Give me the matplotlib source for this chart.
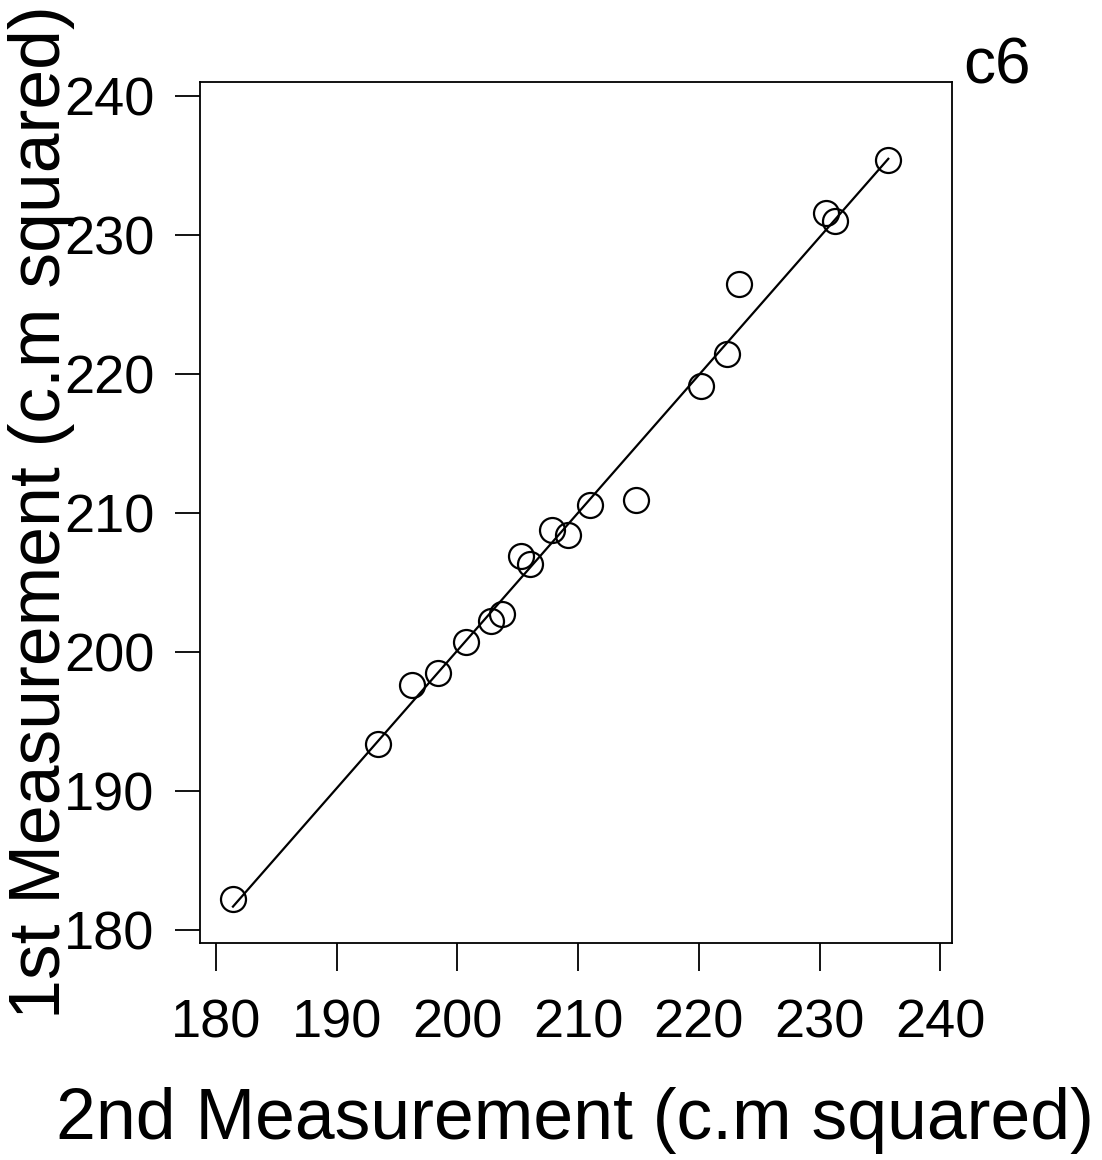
import numpy as np
import matplotlib
matplotlib.use("Agg")
import matplotlib.pyplot as plt

plt.rcParams['font.family'] = ['Liberation Sans', 'DejaVu Sans']

# 2nd measurement (x) and 1st measurement (y), c.m squared
second_measurement = [181.4, 193.4, 196.2, 198.4, 200.7, 202.8, 203.7, 205.3, 206.0,
                      207.8, 209.2, 211.0, 214.8, 220.2, 222.3, 223.3, 230.5, 231.3, 235.7]
first_measurement = [182.2, 193.4, 197.6, 198.5, 200.7, 202.2, 202.7, 206.9, 206.3,
                     208.8, 208.4, 210.6, 210.9, 219.1, 221.4, 226.5, 231.6, 231.0, 235.4]
tick_values = [180, 190, 200, 210, 220, 230, 240]

x = np.array(second_measurement)
y = np.array(first_measurement)

fig = plt.figure(figsize=(11.02, 11.6), dpi=100)
ax = fig.add_axes([0.1815, 0.1871, 0.8639 - 0.1815, 0.9293 - 0.1871])

# fitted line across the data range
slope, intercept = np.polyfit(x, y, 1)
xs = np.array([x.min(), x.max()])
ax.plot(xs, slope * xs + intercept, color='black', lw=1.6, zorder=2)
ax.plot(x, y, 'o', mfc='none', mec='black', ms=18, mew=1.6, zorder=3)

ax.set_xlim(178.67, 240.98)
ax.set_ylim(179.06, 241.0)
ax.set_xticks(tick_values)
ax.set_yticks(tick_values)
ax.tick_params(axis='x', direction='out', length=20, width=1.3, labelsize=39, pad=20)
ax.tick_params(axis='y', direction='out', length=18, width=1.3, labelsize=39, pad=15)
for s in ax.spines.values():
    s.set_linewidth(1.3)

fig.text(575 / 1102, 1 - 1120 / 1160, '2nd Measurement (c.m squared)',
         fontsize=51.5, ha='center', va='center')
fig.text(42 / 1102, 1 - 512 / 1160, '1st Measurement (c.m squared)',
         fontsize=51.5, ha='center', va='center', rotation=90)
fig.text(997 / 1102, 1 - 83 / 1160, 'c6', fontsize=46, ha='center', va='baseline')

fig.savefig('out.png', dpi=100)
